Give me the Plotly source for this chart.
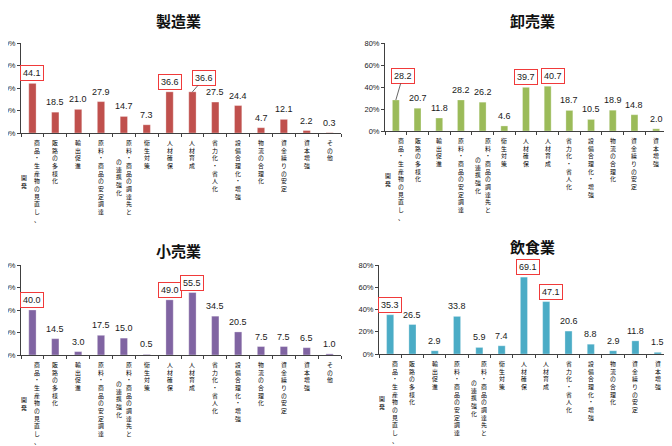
import plotly.graph_objects as go

# categories (vertical labels; second column is drawn to the left)
categories = [
    "商品・生産物の見直し、開発", "販路の多様化", "輸出促進", "原料・商品の安定調達",
    "原料・商品の調達先との連携強化", "衛生対策", "人材確保", "人材育成",
    "省力化・省人化", "設備合理化・増強", "物流の合理化", "資金繰りの安定",
    "資本増強", "その他",
]
label_columns = [
    ["商品・生産物の見直し、", "開発"], ["販路の多様化"], ["輸出促進"], ["原料・商品の安定調達"],
    ["原料・商品の調達先と", "の連携強化"], ["衛生対策"], ["人材確保"], ["人材育成"],
    ["省力化・省人化"], ["設備合理化・増強"], ["物流の合理化"], ["資金繰りの安定"],
    ["資本増強"], ["その他"],
]

titles = ["製造業", "卸売業", "小売業", "飲食業"]
seizo = [44.1, 18.5, 21.0, 27.9, 14.7, 7.3, 36.6, 36.6, 27.5, 24.4, 4.7, 12.1, 2.2, 0.3]
oroshi = [28.2, 20.7, 11.8, 28.2, 26.2, 4.6, 39.7, 40.7, 18.7, 10.5, 18.9, 14.8, 2.0, 0.4]
kouri = [40.0, 14.5, 3.0, 17.5, 15.0, 0.5, 49.0, 55.5, 34.5, 20.5, 7.5, 7.5, 6.5, 1.0]
inshoku = [35.3, 26.5, 2.9, 33.8, 5.9, 7.4, 69.1, 47.1, 20.6, 8.8, 2.9, 11.8, 1.5, 0.0]
series = [seizo, oroshi, kouri, inshoku]
y_ticks = [0, 20, 40, 60, 80]
y_ticktext = ["0%", "20%", "40%", "60%", "80%"]

# boxed (highlighted) values per panel
boxed = [[0, 6, 7], [0, 6, 7], [0, 6, 7], [0, 6, 7]]
colors = ["#C0504D", "#9BBB59", "#8064A2", "#4BACC6"]

W, H = 672, 446
# panel geometry in pixels: x0, x1, y_top(80%), y_base(0%), x range max, title x, title y
panels = [
    dict(x0=13, x1=333, yt=35, yb=125, rmax=13.5, tx=170, ty=13),
    dict(x0=377, x1=672, yt=35, yb=123, rmax=13.1, tx=524, ty=13),
    dict(x0=13, x1=333, yt=257, yb=347, rmax=13.5, tx=170, ty=242),
    dict(x0=371, x1=672, yt=257, yb=346, rmax=13.0, tx=524, ty=238),
]
leaders = [{7: (12, -14)}, {0: (7, -24)}, {}, {}]
nudges = [{}, {7: 5}, {}, {6: 4, 7: 5}]
col_shift = {0: [5, -8], 4: [5, -5]}

fig = go.Figure()
annotations = []
axis_color = "#404040"
lab_size = 5.9
lh = lab_size * 1.3

for i, p in enumerate(panels):
    n = "" if i == 0 else str(i + 1)
    fig.add_trace(go.Bar(
        x=categories, y=series[i], xaxis="x" + n, yaxis="y" + n,
        marker=dict(color=colors[i], line=dict(color="rgba(255,255,255,0.6)", width=0.5)),
        showlegend=False, hoverinfo="x+y",
    ))
    xd = [p["x0"] / W, min(p["x1"] / W, 1)]
    yd = [1 - p["yb"] / H, 1 - p["yt"] / H]
    fig.update_layout(**{
        "xaxis" + n: dict(
            domain=xd, anchor="y" + n, type="category", range=[-0.5, p["rmax"]],
            showticklabels=False, ticks="outside", tickson="boundaries", ticklen=3,
            tickcolor=axis_color, showline=True, linecolor=axis_color, linewidth=1,
            showgrid=False, zeroline=False, fixedrange=True, automargin=False,
        ),
        "yaxis" + n: dict(
            domain=yd, anchor="x" + n, range=[0, 80], tickmode="array",
            tickvals=y_ticks, ticktext=y_ticktext, ticks="outside", ticklen=3,
            tickcolor=axis_color, showline=True, linecolor=axis_color, linewidth=1,
            showgrid=False, zeroline=False, automargin=False,
            tickfont=dict(size=7.5, color="#222", family="Liberation Sans"),
            fixedrange=True,
        ),
    })
    # title
    annotations.append(dict(
        text="<b>" + titles[i] + "</b>", xref="paper", yref="paper",
        x=p["tx"] / W, y=1 - p["ty"] / H, xanchor="center", yanchor="middle",
        showarrow=False, font=dict(size=15, color="#111", family="Noto Sans CJK JP"),
    ))
    # value labels
    for j, v in enumerate(series[i]):
        a = dict(
            text="%.1f" % v, x=categories[j], y=v, xref="x" + n, yref="y" + n,
            font=dict(size=9, color="#1a1a1a", family="Liberation Sans"),
        )
        if j in boxed[i]:
            a.update(bordercolor="#F03A3A", borderwidth=1, borderpad=2, bgcolor="white")
        if j in leaders[i]:
            ax, ay = leaders[i][j]
            a.update(showarrow=True, arrowhead=0, arrowwidth=0.8, arrowcolor="#404040",
                     ax=ax, ay=ay, standoff=0)
        else:
            a.update(showarrow=False, yanchor="middle", yshift=10, xshift=nudges[i].get(j, 0))
        annotations.append(a)
    # vertical category labels
    for j, cols in enumerate(label_columns):
        nmax = max(len(c) for c in cols)
        shifts = col_shift.get(j, [0])
        for k, c in enumerate(cols):
            annotations.append(dict(
                text="<br>".join(c), x=categories[j], y=yd[0], xref="x" + n, yref="paper",
                xanchor="center", yanchor="top", showarrow=False,
                xshift=shifts[k], yshift=-3 - (nmax - len(c)) / 2 * lh,
                font=dict(size=lab_size, color="#000", family="Noto Sans CJK JP"),
            ))

fig.update_layout(
    width=W, height=H, margin=dict(l=0, r=0, t=0, b=0, autoexpand=False),
    paper_bgcolor="white", plot_bgcolor="white", bargap=0.68,
    annotations=annotations,
)

fig.write_html("out.html")
